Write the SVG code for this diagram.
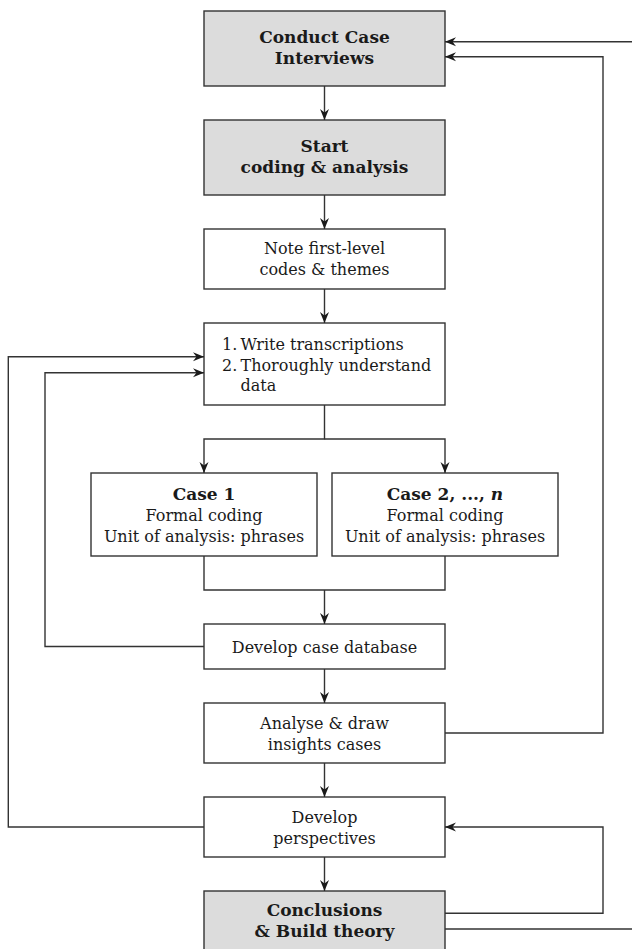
<svg xmlns="http://www.w3.org/2000/svg" width="632" height="949" viewBox="0 0 632 949">
<style>
  .box{fill:#ffffff;stroke:#333333;stroke-width:1.4}
  .gbox{fill:#dcdcdc;stroke:#333333;stroke-width:1.4}
  .t{font-family:"DejaVu Serif",serif;font-size:16px;fill:#1a1a1a;text-anchor:middle}
  .tl{font-family:"DejaVu Serif",serif;font-size:16px;fill:#1a1a1a}
  .b{font-family:"DejaVu Serif",serif;font-size:17px;font-weight:bold;fill:#1a1a1a;text-anchor:middle}
  .c{fill:none;stroke:#333333;stroke-width:1.4}
  .a{marker-end:url(#ah)}
</style>
<defs>
  <marker id="ah" markerUnits="userSpaceOnUse" markerWidth="12" markerHeight="10" viewBox="0 0 12 10" refX="11" refY="5" orient="auto">
    <path d="M0,0.5 L11,5 L0,9.5 L3.5,5 Z" fill="#1a1a1a"/>
  </marker>
</defs>

<g id="conduct">
  <rect class="gbox" x="204" y="11" width="241" height="75"/>
  <text class="b" x="324.5" y="43">Conduct Case</text>
  <text class="b" x="324.5" y="64">Interviews</text>
</g>
<g id="start">
  <rect class="gbox" x="204" y="120" width="241" height="75"/>
  <text class="b" x="324.5" y="152">Start</text>
  <text class="b" x="324.5" y="173">coding &amp; analysis</text>
</g>
<g id="note">
  <rect class="box" x="204" y="229" width="241" height="60"/>
  <text class="t" x="324.5" y="254">Note first-level</text>
  <text class="t" x="324.5" y="274.5">codes &amp; themes</text>
</g>
<g id="write">
  <rect class="box" x="204" y="323" width="241" height="82"/>
  <text class="tl" x="222" y="349.5">1.</text>
  <text class="tl" x="240.5" y="349.5">Write transcriptions</text>
  <text class="tl" x="222" y="370.5">2.</text>
  <text class="tl" x="240.5" y="370.5">Thoroughly understand</text>
  <text class="tl" x="240.5" y="391">data</text>
</g>
<g id="case1">
  <rect class="box" x="91" y="473" width="226" height="83"/>
  <text class="b" x="204" y="499.5">Case 1</text>
  <text class="t" x="204" y="520.5">Formal coding</text>
  <text class="t" x="204" y="541.5">Unit of analysis: phrases</text>
</g>
<g id="case2">
  <rect class="box" x="332" y="473" width="226" height="83"/>
  <text class="b" x="445" y="499.5">Case 2, ..., <tspan font-style="italic">n</tspan></text>
  <text class="t" x="445" y="520.5">Formal coding</text>
  <text class="t" x="445" y="541.5">Unit of analysis: phrases</text>
</g>
<g id="database">
  <rect class="box" x="204" y="624" width="241" height="45"/>
  <text class="t" x="324.5" y="652.5">Develop case database</text>
</g>
<g id="analyse">
  <rect class="box" x="204" y="703" width="241" height="60"/>
  <text class="t" x="324.5" y="729">Analyse &amp; draw</text>
  <text class="t" x="324.5" y="749.5">insights cases</text>
</g>
<g id="perspectives">
  <rect class="box" x="204" y="797" width="241" height="60"/>
  <text class="t" x="324.5" y="823">Develop</text>
  <text class="t" x="324.5" y="844">perspectives</text>
</g>
<g id="conclusions">
  <rect class="gbox" x="204" y="891" width="241" height="70"/>
  <text class="b" x="324.5" y="916">Conclusions</text>
  <text class="b" x="324.5" y="937">&amp; Build theory</text>
</g>

<g id="connectors">
  <path class="c a" d="M324.5,86 V120"/>
  <path class="c a" d="M324.5,195 V229"/>
  <path class="c a" d="M324.5,289 V323"/>
  <path class="c a" d="M324.5,405 V439 H204 V473"/>
  <path class="c a" d="M324.5,439 H445 V473"/>
  <path class="c" d="M204,556 V590 H445 V556"/>
  <path class="c a" d="M324.5,590 V624"/>
  <path class="c a" d="M324.5,669 V703"/>
  <path class="c a" d="M324.5,763 V797"/>
  <path class="c a" d="M324.5,857 V891"/>
  <path class="c a" d="M204,646.5 H45 V372.7 H204"/>
  <path class="c a" d="M204,827 H8.3 V356.7 H204"/>
  <path class="c a" d="M445,733 H603 V56.7 H445"/>
  <path class="c a" d="M445,913.3 H603 V827 H445"/>
  <path class="c" d="M445,929 H632"/>
  <path class="c a" d="M632,41.7 H445"/>
</g>
</svg>
